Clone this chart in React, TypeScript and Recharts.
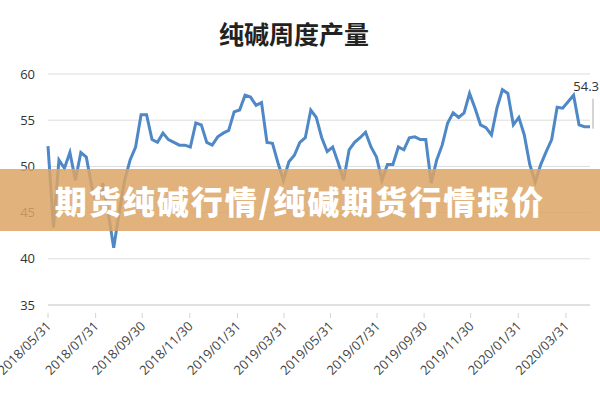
import { CartesianGrid, LabelList, Line, LineChart, XAxis, YAxis } from "recharts";

// 纯碱周度产量 (万吨), weekly
const weeklyOutput = [
  52.2, 43.4, 50.7, 49.8, 51.5, 48.5, 51.5, 51.0, 47.8, 45.8,
  48.2, 45.0, 41.2, 45.0, 48.5, 50.7, 52.1, 55.6, 55.6, 52.9,
  52.6, 53.6, 52.9, 52.6, 52.3, 52.3, 52.1, 54.7, 54.5, 52.6,
  52.3, 53.2, 53.6, 53.9, 55.9, 56.1, 57.7, 57.5, 56.6, 56.9,
  52.6, 52.5, 50.4, 48.5, 50.5, 51.2, 52.6, 53.1, 56.1, 55.3,
  53.1, 51.6, 52.1, 50.4, 48.5, 51.8, 52.6, 53.1, 53.7, 52.1,
  51.0, 48.5, 50.2, 50.2, 52.1, 51.8, 53.1, 53.2, 52.9, 52.9,
  48.2, 50.7, 52.3, 54.7, 55.8, 55.3, 55.8, 57.9, 56.3, 54.5,
  54.2, 53.4, 56.3, 58.3, 57.9, 54.5, 55.3, 53.4, 50.2, 48.3,
  50.2, 51.6, 52.9, 56.4, 56.3, 57.0, 57.7, 54.5, 54.3, 54.3,
];

const tickLabels = [
  "2018/05/31", "2018/07/31", "2018/09/30", "2018/11/30",
  "2019/01/31", "2019/03/31", "2019/05/31", "2019/07/31",
  "2019/09/30", "2019/11/30", "2020/01/31", "2020/03/31",
];
// week index where each month-end label sits
const tickWeeks = [0, 8.7, 17.2, 25.9, 34.6, 43.1, 51.6, 60.1, 68.7, 77.2, 85.9, 94.6];

const yTicks = [35, 40, 45, 50, 55, 60];

const data = weeklyOutput.map((v, i) => ({ week: i, value: v }));
const lastIndex = weeklyOutput.length - 1;

const DateTick = (props: any) => {
  const { x, y, payload } = props;
  const i = tickWeeks.indexOf(payload.value);
  return (
    <g transform={`translate(${x},${y})`}>
      <line x1={0} y1={0} x2={0} y2={5} stroke="#d4d4d4" />
      <text
        x={4}
        y={14}
        textAnchor="end"
        transform="rotate(-45 4 14)"
        fontSize={13}
        fill="#444"
        fontFamily="'Open Sans', sans-serif"
      >
        {tickLabels[i]}
      </text>
    </g>
  );
};

const LastLabel = (props: any) => {
  const { x, y, value, index } = props;
  if (index !== lastIndex) return null;
  return (
    <g>
      <line x1={x + 3} y1={y + 2} x2={x + 3} y2={y - 28} stroke="#aaa" />
      <text x={x + 9} y={y - 36} textAnchor="end" fontSize={13} fill="#333" fontFamily="'Open Sans', sans-serif">
        {value}
      </text>
    </g>
  );
};

export default function App() {
  return (
    <div style={{ position: "absolute", left: 0, top: 0, width: 600, height: 400, background: "#fff", overflow: "hidden" }}>
      <div
        style={{
          position: "absolute",
          left: 0,
          top: 18,
          width: 588,
          textAlign: "center",
          fontFamily: "'Noto Sans CJK SC', sans-serif",
          fontWeight: 700,
          fontSize: 25,
          lineHeight: "30px",
          color: "#222",
        }}
      >
        纯碱周度产量
      </div>
      <LineChart width={600} height={400} data={data} margin={{ top: 74, right: 10, left: 0, bottom: 0 }}>
        <CartesianGrid vertical={false} stroke="#dcdcdc" />
        <XAxis
          dataKey="week"
          type="number"
          domain={[0, lastIndex]}
          ticks={tickWeeks}
          interval={0}
          height={95}
          stroke="#d4d4d4"
          tickLine={false}
          tick={<DateTick />}
        />
        <YAxis
          domain={[35, 60]}
          ticks={yTicks}
          width={48}
          axisLine={false}
          tickLine={false}
          tickMargin={7}
          tick={{ fontSize: 13, fill: "#333", fontFamily: "'Open Sans', sans-serif" }}
        />
        <Line
          dataKey="value"
          stroke="#4f88c6"
          strokeWidth={3}
          dot={false}
          isAnimationActive={false}
        >
          <LabelList dataKey="value" content={<LastLabel />} />
        </Line>
      </LineChart>
      <div
        style={{
          position: "absolute",
          left: 0,
          top: 169,
          width: 600,
          height: 62,
          background: "rgba(220, 164, 100, 0.85)",
          color: "#fff",
          fontFamily: "'Noto Sans CJK SC', sans-serif",
          fontWeight: 900,
          fontSize: 32,
          letterSpacing: 2,
          lineHeight: "62px",
          textAlign: "center",
        }}
      >
        期货纯碱行情/纯碱期货行情报价
      </div>
    </div>
  );
}
